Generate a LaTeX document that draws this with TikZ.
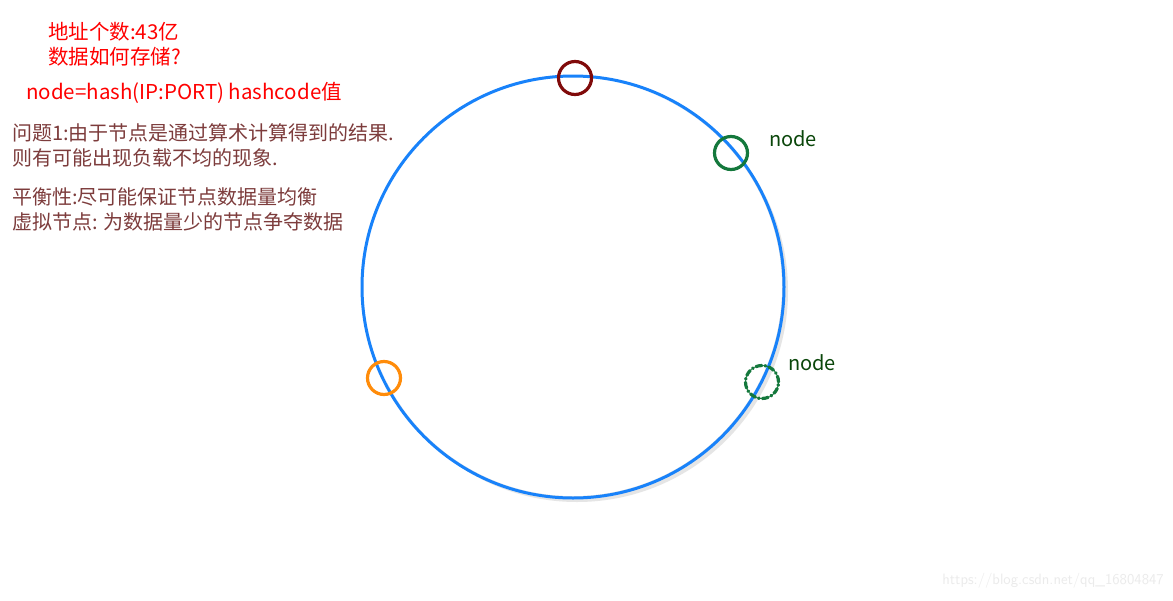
\documentclass[tikz,border=0pt]{standalone}
\usepackage{fontspec}
\setmainfont{Noto Sans CJK SC}
\newfontfamily\cjk{Noto Sans CJK SC}
\usetikzlibrary{shapes.geometric}

\definecolor{ringblue}{RGB}{24,130,250}
\definecolor{darkred}{RGB}{128,10,10}
\definecolor{nodegreen}{RGB}{20,120,60}
\definecolor{labelgreen}{RGB}{10,70,10}
\definecolor{ringorange}{RGB}{255,140,10}
\definecolor{notebrown}{RGB}{125,60,60}

\tikzset{
  marker/.style={circle,draw,line width=3.2pt,minimum size=33pt,inner sep=0pt},
  redtext/.style={anchor=west,inner sep=0pt,text=red,font=\cjk\fontsize{20.5}{24}\selectfont},
  notetext/.style={anchor=west,inner sep=0pt,text=notebrown,font=\cjk\fontsize{20}{24}\selectfont},
  nodelabel/.style={anchor=west,inner sep=0pt,text=labelgreen,font=\cjk\fontsize{20}{24}\selectfont}
}

\begin{document}
\begin{tikzpicture}[x=1pt, y=-1pt, line cap=round, line join=round]

  %% ════ 背景 ════
  \fill[white] (0,0) rectangle (1173,600);

  %% ════ 哈希环 ════
  \fill[black!10] (577,291) circle (211);
  \fill[white] (573,287) circle (209);
  \draw[ringblue, line width=3.0pt] (573,287) circle (211);

  %% ════ 环上的节点 ════
  \node[marker, draw=darkred]    (top)    at (575,78)  {};
  \node[marker, draw=nodegreen]  (right)  at (731,153) {};
  \node[marker, draw=nodegreen, dash pattern=on 6pt off 3pt on 1pt off 3pt] (virtual) at (762,382) {};
  \node[marker, draw=ringorange] (left)   at (384,378) {};

  %% ════ 标签 ════
  \node[nodelabel] (rightlbl)   at (769,139) {node};
  \node[nodelabel] (virtuallbl) at (788,363) {node};

  \node[redtext] (count)  at (48,32) {地址个数:43亿};
  \node[redtext] (store)  at (48,57) {数据如何存储?};
  \node[redtext] (hash)   at (26,93) {node=hash(IP:PORT) hashcode值};

  \node[notetext] (q1a) at (12,133) {问题1:由于节点是通过算术计算得到的结果.};
  \node[notetext] (q1b) at (12,158) {则有可能出现负载不均的现象.};
  \node[notetext] (bal) at (12,197) {平衡性:尽可能保证节点数据量均衡};
  \node[notetext] (vir) at (12,222) {虚拟节点: 为数据量少的节点争夺数据};

  %% 水印
  \node[anchor=east,inner sep=0pt,text=black!8,font=\sffamily\fontsize{15}{18}\selectfont] (mark) at (1164,581) {https://blog.csdn.net/qq\_16804847};

  \pgfresetboundingbox
  \path[use as bounding box] (0,0) rectangle (1173,600);
\end{tikzpicture}
\end{document}
